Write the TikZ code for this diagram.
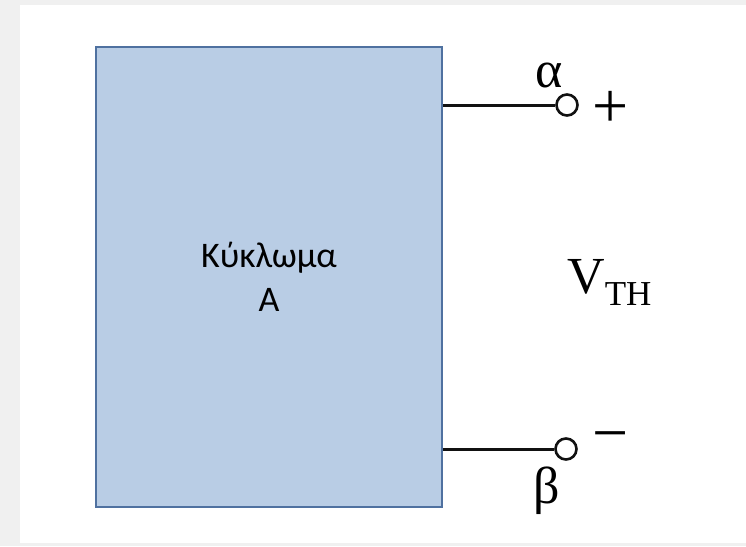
\documentclass[tikz,border=0pt]{standalone}
\usepackage{fontspec}
\setmainfont{Liberation Serif}
\newfontfamily\boxfont{Carlito}
\usetikzlibrary{positioning}
\definecolor{frame}{HTML}{F0F0F0}
\definecolor{blockfill}{HTML}{B9CDE5}
\definecolor{blockdraw}{HTML}{4F71A0}
\definecolor{ink}{HTML}{111111}

\begin{document}
\begin{tikzpicture}[
  x=1pt,y=1pt,
  block/.style={draw=blockdraw,line width=2pt,fill=blockfill,inner sep=0pt,
    minimum width=346pt,minimum height=460pt,align=center,
    font=\boxfont\fontsize{36}{44}\selectfont},
  terminal/.style={circle,draw=ink,line width=2.6pt,fill=white,
    minimum size=21pt,inner sep=0pt},
  wire/.style={draw=ink,line width=3pt},
  symbol/.style={inner sep=0pt,font=\fontsize{52}{60}\selectfont},
  sign/.style={inner sep=0pt,font=\fontsize{64}{70}\selectfont}
]
\fill[frame] (0,0) rectangle (746,-546);
\fill[white] (20,-5) rectangle (746,-543);
\path[use as bounding box] (0,0) rectangle (746,-546);

% circuit block and its two terminals
\node[block] (circuit) at (269,-277) {Κύκλωμα\\A};
\node[terminal] (a) at (567,-105) {};
\node[terminal] (b) at (566,-449) {};
\draw[wire] (circuit.east |- a) -- (a.west);
\draw[wire] (circuit.east |- b) -- (b.west);

\node[symbol,anchor=base] (alpha) at (549,-87) {α};
\node[symbol,anchor=base] (beta) at (547,-503) {β};
\node[sign] (plus) at (611,-109) {+};
\node[sign] (minus) at (611,-443) {−};
\node[inner sep=0pt,anchor=base west] (vth) at (567,-293)
  {\fontsize{52}{60}\selectfont V\raisebox{-12pt}{\fontsize{35}{40}\selectfont TH}};
\end{tikzpicture}
\end{document}
